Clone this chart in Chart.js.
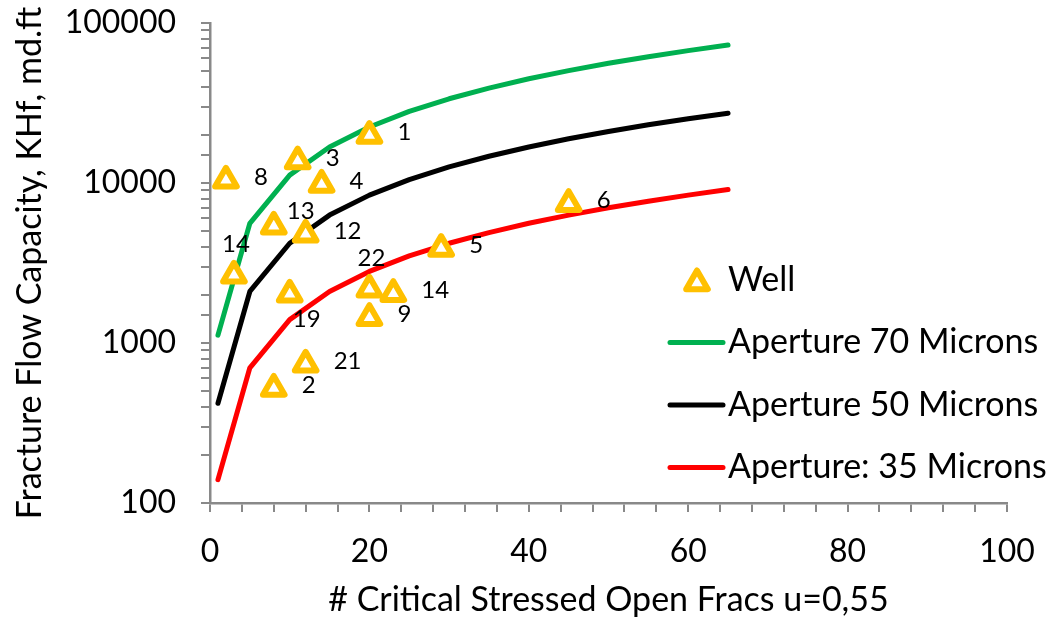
<!DOCTYPE html>
<html>
<head>
<meta charset="utf-8">
<script src="https://cdn.jsdelivr.net/npm/chart.js@4.4.1/dist/chart.umd.min.js"></script>
<style>
  html, body { margin: 0; padding: 0; background: #fff; }
</style>
</head>
<body>
<canvas id="chart" width="1057" height="617"></canvas>
<script>
// --- data ---
const wellX = [20, 11, 2, 14, 8, 12, 3, 10, 20, 23, 20, 12, 8, 29, 45];
const wellY = [19800, 13700, 10400, 9800, 5360, 4780, 2650, 2015, 2165, 2035, 1440, 736, 520, 3890, 7430];
const wellLabels = ['1', '3', '8', '4', '13', '12', '14', '19', '22', '14', '9', '21', '2', '5', '6'];
// where each well label sits next to its marker
const wellLabelPlace = ['right', 'right', 'right', 'right', 'aboveRight', 'right', 'above', 'belowRight',
    'above', 'right', 'right', 'right', 'right', 'right', 'right'];

const fracCount = [1, 5, 10, 15, 20, 25, 30, 35, 40, 45, 50, 55, 60, 65];
const kh70 = [1120, 5600, 11200, 16800, 22400, 28000, 33600, 39200, 44800, 50400, 56000, 61600, 67200, 72800];
const kh50 = [420, 2100, 4200, 6300, 8400, 10500, 12600, 14700, 16800, 18900, 21000, 23100, 25200, 27300];
const kh35 = [140, 700, 1400, 2100, 2800, 3500, 4200, 4900, 5600, 6300, 7000, 7700, 8400, 9100];

const yTickLabels = [100, 1000, 10000, 100000];
const xTickLabels = [0, 20, 40, 60, 80, 100];

const axisGray = '#898989';
const wellColor = '#FFC000';
const FONT = 'Lato';
Chart.defaults.font.family = FONT;
Chart.defaults.color = '#000';

const toPoints = (xs, ys) => xs.map((x, i) => ({ x, y: ys[i] }));

// rounded corners on the triangle markers, as in the original
const roundMarkers = {
    id: 'roundMarkers',
    beforeDatasetDraw(chart, args) {
        if (args.index === 0) chart.ctx.lineJoin = 'round';
    },
    afterDatasetDraw(chart, args) {
        if (args.index === 0) chart.ctx.lineJoin = 'miter';
    }
};

// labels next to the well markers
const labelOffsets = {
    right: [28, -3, 'left'],
    above: [2, -31, 'center'],
    aboveRight: [27, -15, 'center'],
    belowRight: [17, 25, 'center']
};
const wellLabelPlugin = {
    id: 'wellLabels',
    afterDatasetsDraw(chart) {
        const ctx = chart.ctx;
        const meta = chart.getDatasetMeta(0);
        ctx.save();
        ctx.font = `24px ${FONT}`;
        ctx.fillStyle = '#000';
        ctx.textBaseline = 'middle';
        meta.data.forEach((pt, i) => {
            const [dx, dy, align] = labelOffsets[wellLabelPlace[i]];
            ctx.textAlign = align;
            ctx.fillText(wellLabels[i], pt.x + dx, pt.y + dy);
        });
        ctx.restore();
    }
};

// legend drawn inside the plot, like the original
const insideLegend = {
    id: 'insideLegend',
    afterDraw(chart) {
        const ctx = chart.ctx;
        const lineX0 = 670, lineX1 = 723, textX = 728, top = 280, gap = 62.5;
        ctx.save();
        ctx.font = `34px ${FONT}`;
        ctx.textBaseline = 'middle';
        ctx.textAlign = 'left';
        chart.data.datasets.forEach((ds, i) => {
            const y = top + i * gap;
            if (ds.showLine === false) {
                const r = ds.pointRadius, cx = 697, cy = y + 3;
                ctx.beginPath();
                for (let k = 0; k < 3; k++) {
                    const a = k * 2 * Math.PI / 3;
                    ctx.lineTo(cx + Math.sin(a) * r, cy - Math.cos(a) * r);
                }
                ctx.closePath();
                ctx.fillStyle = '#fff';
                ctx.fill();
                ctx.lineWidth = ds.pointBorderWidth;
                ctx.lineJoin = 'round';
                ctx.strokeStyle = ds.pointBorderColor;
                ctx.stroke();
            } else {
                ctx.beginPath();
                ctx.moveTo(lineX0, y);
                ctx.lineTo(lineX1, y);
                ctx.lineWidth = ds.borderWidth;
                ctx.lineCap = 'round';
                ctx.strokeStyle = ds.borderColor;
                ctx.stroke();
            }
            ctx.fillStyle = '#000';
            ctx.fillText(ds.label, textX, y);
        });
        ctx.restore();
    }
};

const lineSet = (label, ys, color) => ({
    label,
    data: toPoints(fracCount, ys),
    showLine: true,
    borderColor: color,
    borderWidth: 5,
    borderCapStyle: 'round',
    borderJoinStyle: 'round',
    pointRadius: 0,
    tension: 0
});

new Chart(document.getElementById('chart'), {
    type: 'scatter',
    data: {
        datasets: [
            {
                label: 'Well',
                data: toPoints(wellX, wellY),
                showLine: false,
                pointStyle: 'triangle',
                pointRadius: 12.5,
                pointBackgroundColor: '#fff',
                pointBorderColor: wellColor,
                pointBorderWidth: 6
            },
            lineSet('Aperture 70 Microns', kh70, '#00B050'),
            lineSet('Aperture 50 Microns', kh50, '#000000'),
            lineSet('Aperture: 35 Microns', kh35, '#FF0000')
        ]
    },
    options: {
        responsive: false,
        animation: false,
        layout: { padding: { top: 23, right: 50, left: 0, bottom: 0 } },
        plugins: { legend: { display: false }, tooltip: { enabled: false } },
        scales: {
            x: {
                type: 'linear',
                min: 0,
                max: 100,
                border: { color: axisGray, width: 2.5 },
                grid: { drawOnChartArea: false, tickLength: 9, color: axisGray, lineWidth: 2 },
                ticks: {
                    stepSize: 4,
                    autoSkip: false,
                    maxRotation: 0,
                    padding: 20,
                    font: { size: 32 },
                    callback: (v) => xTickLabels.includes(v) ? String(v) : ''
                },
                title: {
                    display: true,
                    text: '# Critical Stressed Open Fracs u=0,55',
                    font: { size: 34 },
                    padding: { top: 0, bottom: -3 }
                },
                afterFit: (s) => { s.height = 114; s.paddingLeft = 0; s.paddingRight = 0; }
            },
            y: {
                type: 'logarithmic',
                min: 100,
                max: 100000,
                border: { color: axisGray, width: 2.5 },
                grid: { drawOnChartArea: false, tickLength: 9, color: axisGray, lineWidth: 2 },
                ticks: {
                    autoSkip: false,
                    padding: 25,
                    font: { size: 32 },
                    callback: (v) => yTickLabels.includes(v) ? String(v) : ''
                },
                title: {
                    display: true,
                    text: 'Fracture Flow Capacity, KHf, md.ft',
                    font: { size: 34 },
                    padding: { top: 10, bottom: 0 }
                },
                afterFit: (s) => { s.width = 210; s.paddingTop = 0; s.paddingBottom = 0; }
            }
        }
    },
    plugins: [roundMarkers, wellLabelPlugin, insideLegend]
});
</script>
</body>
</html>
